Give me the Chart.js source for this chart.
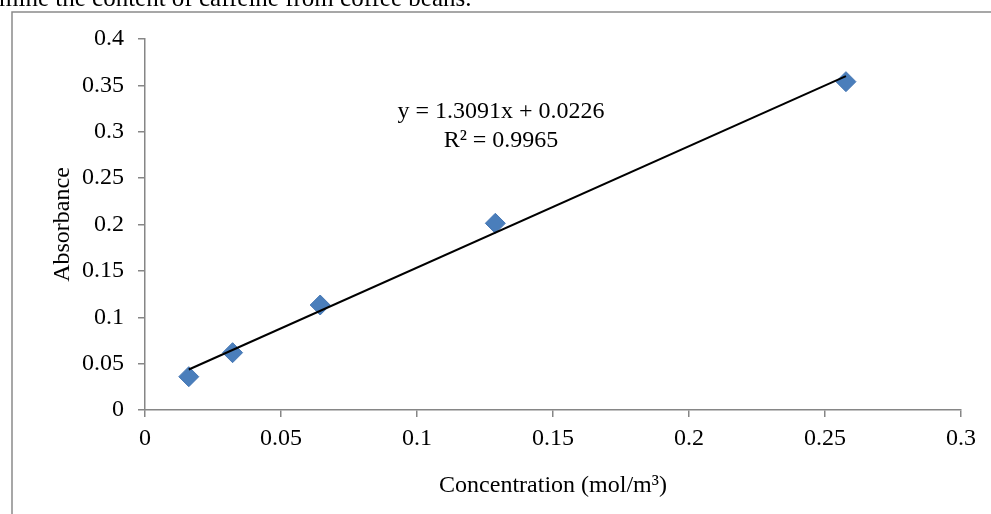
<!DOCTYPE html>
<html>
<head>
<meta charset="utf-8">
<script src="https://cdn.jsdelivr.net/npm/chart.js@4"></script>
<style>
  html, body { margin: 0; padding: 0; background: #fff; }
  #wrap { position: relative; width: 991px; height: 514px; }
</style>
</head>
<body>
<div id="wrap"><canvas id="chart" width="991" height="514"></canvas></div>
<script>
// caffeine standard curve
const concentration = [0.0161, 0.0322, 0.0644, 0.1288, 0.2577];
const absorbance = [0.0359, 0.0618, 0.1132, 0.2013, 0.354];
const xTicks = [0, 0.05, 0.1, 0.15, 0.2, 0.25, 0.3];
const yTicks = [0, 0.05, 0.1, 0.15, 0.2, 0.25, 0.3, 0.35, 0.4];
const slope = 1.3091;
const intercept = 0.0226;
const equationText = ["y = 1.3091x + 0.0226", "R\u00B2 = 0.9965"];
const captionText = "mine the content of caffeine from coffee beans.";

const FONT = "'Liberation Serif', 'Times New Roman', serif";
const AXIS = "#868686";

const xMin = Math.min(...concentration);
const xMax = Math.max(...concentration);
const trend = [
  { x: xMin, y: slope * xMin + intercept },
  { x: xMax, y: slope * xMax + intercept },
];

const decor = {
  id: "decor",
  afterDraw(chart) {
    const ctx = chart.ctx;
    ctx.save();
    // frame of the surrounding table cell
    ctx.strokeStyle = "#8a8a8a";
    ctx.lineWidth = 1.5;
    ctx.beginPath();
    ctx.moveTo(12, 514);
    ctx.lineTo(12, 12);
    ctx.lineTo(991, 12);
    ctx.stroke();
    // cut-off caption line above
    ctx.fillStyle = "#000";
    ctx.font = "25px " + FONT;
    ctx.textBaseline = "alphabetic";
    ctx.textAlign = "left";
    ctx.fillText(captionText, -1, 6);
    // trendline equation
    ctx.textAlign = "center";
    ctx.font = "24px " + FONT;
    ctx.fillText(equationText[0], 501, 118);
    ctx.fillText(equationText[1], 501, 147);
    ctx.restore();
  },
};

new Chart(document.getElementById("chart"), {
  type: "scatter",
  data: {
    datasets: [
      {
        label: "Absorbance",
        data: concentration.map((x, i) => ({ x, y: absorbance[i] })),
        pointStyle: "rectRot",
        pointRadius: 10,
        pointHoverRadius: 10,
        backgroundColor: "#4a7ebb",
        borderColor: "#4677b4",
        borderWidth: 1,
        order: 2,
      },
      {
        label: "Linear",
        data: trend,
        type: "line",
        showLine: true,
        borderColor: "#000",
        borderWidth: 2,
        pointRadius: 0,
        fill: false,
        order: 1,
      },
    ],
  },
  options: {
    responsive: false,
    animation: false,
    layout: { padding: { left: 0, top: 39, right: 30, bottom: 0 } },
    plugins: { legend: { display: false }, tooltip: { enabled: false } },
    scales: {
      x: {
        type: "linear",
        min: 0,
        max: 0.3,
        afterBuildTicks: (s) => { s.ticks = xTicks.map((v) => ({ value: v })); },
        afterFit: (s) => { s.height = 104; },
        ticks: {
          color: "#000",
          font: { family: FONT, size: 24 },
          padding: 7,
          maxRotation: 0,
          callback: (v) => String(v),
        },
        grid: { drawOnChartArea: false, drawTicks: true, tickLength: 7, color: AXIS, lineWidth: 1.5 },
        border: { color: AXIS, width: 1.5 },
        title: {
          display: true,
          text: "Concentration (mol/m\u00B3)",
          color: "#000",
          font: { family: FONT, size: 24 },
          padding: { top: 14, bottom: 14 },
        },
      },
      y: {
        type: "linear",
        min: 0,
        max: 0.4,
        afterBuildTicks: (s) => { s.ticks = yTicks.map((v) => ({ value: v })); },
        afterFit: (s) => { s.width = 145; },
        ticks: {
          color: "#000",
          font: { family: FONT, size: 24 },
          padding: 14,
          callback: (v) => String(v),
        },
        grid: { drawOnChartArea: false, drawTicks: true, tickLength: 7, color: AXIS, lineWidth: 1.5 },
        border: { color: AXIS, width: 1.5 },
        title: {
          display: true,
          text: "Absorbance",
          color: "#000",
          font: { family: FONT, size: 24 },
          padding: { top: 48, bottom: 48 },
        },
      },
    },
  },
  plugins: [decor],
});
</script>
</body>
</html>
